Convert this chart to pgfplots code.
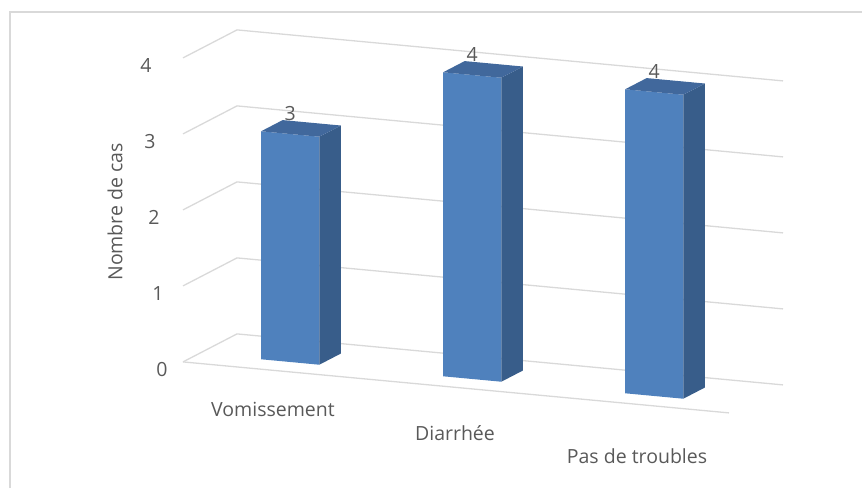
\documentclass[border=0pt]{standalone}
\usepackage{pgfplots}
\pgfplotsset{compat=1.18}
\usepackage{fontspec}
\setmainfont{Open Sans}

\definecolor{frontblue}{HTML}{4F81BD}
\definecolor{sideblue}{HTML}{385D8A}
\definecolor{topblue}{HTML}{41689C}
\definecolor{gridgray}{HTML}{D9D9D9}
\definecolor{textgray}{HTML}{595959}

% one 3D column: front, right side and top faces
\newcommand{\cuboid}[3]{%
  \addplot3[fill=frontblue, draw=none] coordinates {(#1,0.3,0) (#2,0.3,0) (#2,0.3,#3) (#1,0.3,#3)} --cycle;
  \addplot3[fill=sideblue, draw=none] coordinates {(#2,0.3,0) (#2,0.7,0) (#2,0.7,#3) (#2,0.3,#3)} --cycle;
  \addplot3[fill=topblue, draw=none] coordinates {(#1,0.3,#3) (#2,0.3,#3) (#2,0.7,#3) (#1,0.7,#3)} --cycle;
}

\begin{document}
\begin{tikzpicture}
\begin{axis}[
  x={(182pt,-17pt)}, y={(54pt,28pt)}, z={(0pt,76pt)},
  xmin=-0.5, xmax=2.5, ymin=0, ymax=1, zmin=0, zmax=4,
  axis line style={draw=none},
  major tick length=0pt,
  xtick={0,1,2},
  xticklabels={Vomissement,Diarrhée,Pas de troubles},
  ytick=\empty,
  ztick={0,1,2,3,4},
  clip=false,
  ticklabel style={font=\fontsize{19.5}{23}\selectfont, text=textgray},
  xticklabel style={anchor=center, xshift=-1pt, yshift={-39pt-6.5pt*\ticknum}},
  zticklabel style={anchor=center, xshift={-21pt-4pt*\ticknum}, yshift=-8pt},
  /pgf/number format/assume math mode=true,
]
  % back and left walls: horizontal grid lines
  \addplot3[gridgray, line width=1.3pt] coordinates {(-0.5,0,0) (-0.5,1,0) (2.5,1,0)};
  \addplot3[gridgray, line width=1.3pt] coordinates {(-0.5,0,1) (-0.5,1,1) (2.5,1,1)};
  \addplot3[gridgray, line width=1.3pt] coordinates {(-0.5,0,2) (-0.5,1,2) (2.5,1,2)};
  \addplot3[gridgray, line width=1.3pt] coordinates {(-0.5,0,3) (-0.5,1,3) (2.5,1,3)};
  \addplot3[gridgray, line width=1.3pt] coordinates {(-0.5,0,4) (-0.5,1,4) (2.5,1,4)};
  % floor front edge
  \addplot3[gridgray, line width=1.3pt] coordinates {(-0.5,0,0) (2.5,0,0)};

  % columns
  \cuboid{-0.16}{0.16}{3}
  \cuboid{0.84}{1.16}{4}
  \cuboid{1.84}{2.16}{4}

  % value labels
  \node[anchor=base, text=textgray, font=\fontsize{19.5}{23}\selectfont, yshift=14pt] at (axis cs:0,0.3,3) {3};
  \node[anchor=base, text=textgray, font=\fontsize{19.5}{23}\selectfont, yshift=14pt] at (axis cs:1,0.3,4) {4};
  \node[anchor=base, text=textgray, font=\fontsize{19.5}{23}\selectfont, yshift=14pt] at (axis cs:2,0.3,4) {4};

  \coordinate (O) at (axis cs:0,0,0);
  \coordinate (L) at (axis cs:-0.5,0,2);
\end{axis}
\node[rotate=90, text=textgray, font=\fontsize{19.5}{23}\selectfont] at ([shift={(-68pt,-2pt)}]L) {Nombre de cas};
\coordinate (BL) at ([shift={(-274pt,-117.6pt)}]O);
\draw[gridgray, line width=1.5pt] ([shift={(10pt,0pt)}]BL) -- ([shift={(10pt,476pt)}]BL) -- ([shift={(862pt,476pt)}]BL);
\pgfresetboundingbox
\useasboundingbox (BL) rectangle ([shift={(862pt,488pt)}]BL);
\end{tikzpicture}
\end{document}
